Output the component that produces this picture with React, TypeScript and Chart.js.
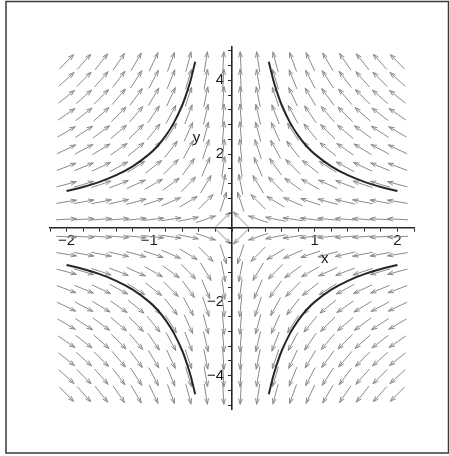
import React, { useEffect, useRef } from 'react';
import { Chart, registerables } from 'chart.js';

Chart.register(...registerables);

// Sample points of the direction field for the system  x' = -x,  y' = y
const gridX = [
  -2.0, -1.789, -1.579, -1.368, -1.158, -0.947, -0.737, -0.526, -0.316, -0.105,
  0.105, 0.316, 0.526, 0.737, 0.947, 1.158, 1.368, 1.579, 1.789, 2.0,
];
const gridY = [
  -4.5, -4.026, -3.553, -3.079, -2.605, -2.132, -1.658, -1.184, -0.711, -0.237,
  0.237, 0.711, 1.184, 1.658, 2.132, 2.605, 3.079, 3.553, 4.026, 4.5,
];

// One branch of the solution curves |x·y| = 2 (first quadrant); the other
// three branches are its mirror images
const branchX = [0.445, 0.5, 0.55, 0.6, 0.7, 0.8, 0.9, 1.0, 1.2, 1.4, 1.6, 1.8, 2.0];
const branchY = [4.5, 4.0, 3.64, 3.33, 2.86, 2.5, 2.22, 2.0, 1.67, 1.43, 1.25, 1.11, 1.0];

// Axis ticks and the ones that carry a label
const xTicks = [
  -2.2, -2.0, -1.8, -1.6, -1.4, -1.2, -1.0, -0.8, -0.6, -0.4, -0.2, 0,
  0.2, 0.4, 0.6, 0.8, 1.0, 1.2, 1.4, 1.6, 1.8, 2.0, 2.2,
];
const yTicks = [
  -4.8, -4.4, -4.0, -3.6, -3.2, -2.8, -2.4, -2.0, -1.6, -1.2, -0.8, -0.4, 0,
  0.4, 0.8, 1.2, 1.6, 2.0, 2.4, 2.8, 3.2, 3.6, 4.0, 4.4, 4.8,
];
const xLabelled = [-2, -1, 1, 2];
const yLabelled = [-4, -2, 2, 4];

const X_RANGE = [-2.2, 2.2];
const Y_RANGE = [-4.9, 4.9];

const FONT = '"Liberation Sans", Arial, Helvetica, sans-serif';
const AXIS_COLOR = '#262626';
const TEXT_COLOR = '#1a1a1a';
const ARROW_COLOR = '#8a8a8a';
const CURVE_COLOR = '#262626';

const velocity = (x: number, y: number): [number, number] => [-x, y];

const fieldPoints = gridY.flatMap((y) => gridX.map((x) => ({ x, y })));

const mirror = (sx: number, sy: number) =>
  branchX.map((x, i) => ({ x: sx * x, y: sy * branchY[i] }));

const fmt = (v: number, marked: number[]) => {
  const hit = marked.find((m) => Math.abs(m - v) < 1e-6);
  if (hit === undefined) return '';
  return hit < 0 ? '\u2212' + Math.abs(hit) : String(hit);
};

const ARROW_LEN = 20;
const HEAD_LEN = 5.5;
const HEAD_ANGLE = 0.34;
const Y_LABEL_GAP = 8;

const fieldArrows = {
  id: 'fieldArrows',
  beforeDatasetsDraw(chart: any) {
    const { ctx, scales } = chart;
    const meta = chart.getDatasetMeta(0);
    const kx = scales.x.getPixelForValue(1) - scales.x.getPixelForValue(0);
    const ky = scales.y.getPixelForValue(0) - scales.y.getPixelForValue(1);
    ctx.save();
    ctx.strokeStyle = ARROW_COLOR;
    ctx.lineWidth = 1;
    ctx.lineCap = 'round';
    meta.data.forEach((el: any, i: number) => {
      const p = fieldPoints[i];
      const [u, v] = velocity(p.x, p.y);
      let dx = u * kx;
      let dy = -v * ky;
      const n = Math.hypot(dx, dy) || 1;
      dx /= n;
      dy /= n;
      const x0 = el.x - (dx * ARROW_LEN) / 2;
      const y0 = el.y - (dy * ARROW_LEN) / 2;
      const x1 = el.x + (dx * ARROW_LEN) / 2;
      const y1 = el.y + (dy * ARROW_LEN) / 2;
      const a = Math.atan2(dy, dx);
      ctx.beginPath();
      ctx.moveTo(x0, y0);
      ctx.lineTo(x1, y1);
      ctx.moveTo(x1 - HEAD_LEN * Math.cos(a - HEAD_ANGLE), y1 - HEAD_LEN * Math.sin(a - HEAD_ANGLE));
      ctx.lineTo(x1, y1);
      ctx.lineTo(x1 - HEAD_LEN * Math.cos(a + HEAD_ANGLE), y1 - HEAD_LEN * Math.sin(a + HEAD_ANGLE));
      ctx.stroke();
    });
    ctx.restore();
  },
};

// The centred y axis right-aligns its labels on the axis line itself;
// move them left so they sit beside the tick marks.
const yLabelGap = {
  id: 'yLabelGap',
  beforeDraw(chart: any) {
    const items = chart.scales.y.getLabelItems();
    items.forEach((item: any) => {
      if (item._shifted) return;
      item.options.translation[0] -= Y_LABEL_GAP;
      item._shifted = true;
    });
  },
};

// Axis names placed at data coordinates next to the axes
const axisNames = {
  id: 'axisNames',
  afterDraw(chart: any) {
    const { ctx, scales } = chart;
    ctx.save();
    ctx.fillStyle = TEXT_COLOR;
    ctx.font = `15px ${FONT}`;
    ctx.textAlign = 'center';
    ctx.textBaseline = 'middle';
    ctx.fillText('x', scales.x.getPixelForValue(1.12), scales.y.getPixelForValue(-0.84));
    ctx.fillText('y', scales.x.getPixelForValue(-0.43), scales.y.getPixelForValue(2.45));
    ctx.restore();
  },
};

const frame = {
  id: 'frame',
  afterDraw(chart: any) {
    const { ctx } = chart;
    ctx.save();
    ctx.strokeStyle = '#3a3a3a';
    ctx.lineWidth = 1.5;
    ctx.strokeRect(6, 1.5, 442.5, 451.5);
    ctx.restore();
  },
};

const curveStyle = {
  showLine: true,
  borderColor: CURVE_COLOR,
  borderWidth: 2,
  pointRadius: 0,
  tension: 0.35,
  fill: false,
};

export default function App() {
  const ref = useRef<HTMLCanvasElement | null>(null);

  useEffect(() => {
    document.body.style.margin = '0';
    const canvas = ref.current;
    if (!canvas) return;
    const chart = new Chart(canvas, {
      type: 'scatter',
      data: {
        datasets: [
          { label: 'field', data: fieldPoints, pointRadius: 0, showLine: false },
          { label: 'xy=2', data: mirror(1, 1), ...curveStyle },
          { label: 'xy=-2 (upper)', data: mirror(-1, 1), ...curveStyle },
          { label: 'xy=2 (lower)', data: mirror(-1, -1), ...curveStyle },
          { label: 'xy=-2 (lower)', data: mirror(1, -1), ...curveStyle },
        ],
      },
      options: {
        responsive: false,
        animation: false,
        devicePixelRatio: 1,
        events: [],
        layout: { padding: { left: 50, right: 35, top: 47, bottom: 47 } },
        plugins: { legend: { display: false }, tooltip: { enabled: false } },
        scales: {
          x: {
            type: 'linear',
            min: X_RANGE[0],
            max: X_RANGE[1],
            position: { y: 0 },
            afterBuildTicks: (axis: any) => {
              axis.ticks = xTicks.map((value) => ({ value }));
            },
            grid: { drawOnChartArea: false, drawTicks: true, tickLength: 3, color: AXIS_COLOR, lineWidth: 1 },
            border: { color: AXIS_COLOR, width: 1.6 },
            ticks: {
              autoSkip: false,
              maxRotation: 0,
              padding: 1,
              color: TEXT_COLOR,
              font: { family: FONT, size: 15 },
              callback: (v: any) => fmt(Number(v), xLabelled),
            },
          },
          y: {
            type: 'linear',
            min: Y_RANGE[0],
            max: Y_RANGE[1],
            position: { x: 0 },
            afterBuildTicks: (axis: any) => {
              axis.ticks = yTicks.map((value) => ({ value }));
            },
            grid: { drawOnChartArea: false, drawTicks: true, tickLength: 3, color: AXIS_COLOR, lineWidth: 1 },
            border: { color: AXIS_COLOR, width: 1.6 },
            ticks: {
              autoSkip: false,
              padding: 5,
              color: TEXT_COLOR,
              font: { family: FONT, size: 15 },
              callback: (v: any) => fmt(Number(v), yLabelled),
            },
          },
        },
      },
      plugins: [yLabelGap, fieldArrows, axisNames, frame],
    } as any);
    return () => chart.destroy();
  }, []);

  return (
    <div style={{ width: 449, height: 456, position: 'relative' }}>
      <canvas ref={ref} width={449} height={456} style={{ display: 'block' }} />
    </div>
  );
}
